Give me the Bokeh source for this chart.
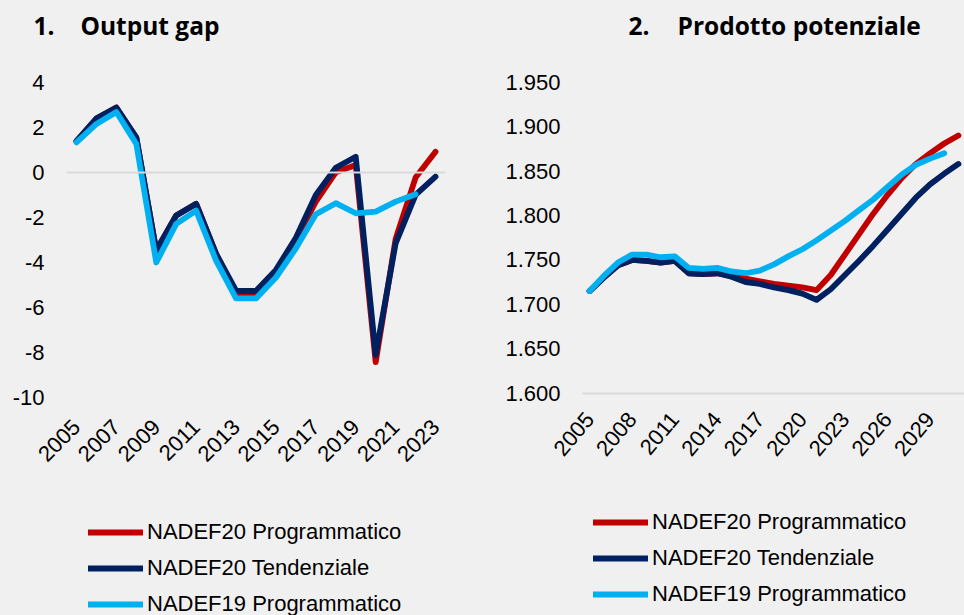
import math
from bokeh.plotting import figure
from bokeh.models import (Range1d, FixedTicker, Legend, LegendItem, Label,
                          LinearAxis)
from bokeh.layouts import row
from bokeh.embed import file_html
from bokeh.resources import INLINE

# ---------------- data ----------------
years_gap = list(range(2005, 2024))
gap_nadef20_prog = [1.4, 2.4, 2.9, 1.55, -3.47, -1.91, -1.39, -3.62, -5.35, -5.42,
                    -4.4, -3.0, -1.29, 0.01, 0.34, -8.44, -2.95, -0.22, 0.93]
gap_nadef20_tend = [1.4, 2.42, 2.9, 1.57, -3.47, -1.91, -1.39, -3.62, -5.25, -5.27,
                    -4.33, -2.9, -0.99, 0.22, 0.71, -8.12, -3.15, -0.99, -0.18]
years_gap19 = list(range(2005, 2023))
gap_nadef19_prog = [1.35, 2.17, 2.7, 1.28, -4.0, -2.28, -1.69, -3.92, -5.6, -5.6,
                    -4.67, -3.37, -1.85, -1.36, -1.81, -1.74, -1.29, -0.96]
gap_ticks_y = [-10, -8, -6, -4, -2, 0, 2, 4]
gap_tick_labels = ["-10", "-8", "-6", "-4", "-2", "0", "2", "4"]
gap_ticks_x = list(range(2005, 2024, 2))

years_pot = list(range(2005, 2032))
pot_nadef20_prog = [1715, 1730, 1744, 1750, 1749, 1747, 1749, 1735, 1734, 1735,
                    1732, 1729, 1726, 1723, 1721, 1719, 1716, 1733, 1756, 1779,
                    1802, 1823, 1842, 1858, 1870, 1881, 1890]
pot_nadef20_tend = [1715, 1730, 1744, 1750, 1749, 1747, 1749, 1735, 1734, 1735,
                    1731, 1725, 1723, 1719, 1716, 1712, 1705, 1717, 1733, 1749,
                    1766, 1784, 1802, 1820, 1835, 1847, 1858]
years_pot19 = list(range(2005, 2031))
pot_nadef19_prog = [1715, 1732, 1747, 1756, 1756, 1753, 1754, 1741, 1740, 1741,
                    1737, 1735, 1738, 1745, 1754, 1762, 1772, 1783, 1794, 1806,
                    1818, 1832, 1846, 1857, 1864, 1870]
pot_ticks_y = [1600, 1650, 1700, 1750, 1800, 1850, 1900, 1950]
pot_tick_labels = ["1.600", "1.650", "1.700", "1.750", "1.800", "1.850", "1.900", "1.950"]
pot_ticks_x = list(range(2005, 2032, 3))

series_labels = ["NADEF20 Programmatico", "NADEF20 Tendenziale", "NADEF19 Programmatico"]
colors = ["#C00000", "#002060", "#00B0F0"]

BG = "#F0F0F0"
TICK_FONT = "Liberation Sans"
LW = 5.8
H = 615


def ranges(x0, x1, px0, px1, y0, y1, py_bottom, py_top, width, height):
    """Extend the value ranges so that the plot area [px0,px1]x[py_top,py_bottom]
    (pixels from the canvas' top-left) holds [x0,x1]x[y0,y1]; the frame covers the canvas."""
    sx = (x1 - x0) / (px1 - px0)
    sy = (y1 - y0) / (py_bottom - py_top)
    xr = Range1d(x0 - px0 * sx, x1 + (width - px1) * sx)
    yr = Range1d(y0 - (height - py_bottom) * sy, y1 + py_top * sy)
    return xr, yr


def base_figure(width, xr, yr):
    p = figure(width=width, height=H, output_backend="svg", toolbar_location=None,
               x_range=xr, y_range=yr,
               min_border_left=0, min_border_right=0, min_border_top=0,
               min_border_bottom=0)
    p.background_fill_color = BG
    p.border_fill_color = BG
    p.outline_line_color = None
    p.xgrid.grid_line_color = None
    p.ygrid.grid_line_color = None
    for ax in (p.xaxis[0], p.yaxis[0]):
        ax.major_tick_line_color = None
        ax.minor_tick_line_color = None
        ax.major_tick_out = 0
        ax.major_tick_in = 0
        ax.minor_tick_out = 0
        ax.minor_tick_in = 0
        ax.major_label_text_font = TICK_FONT
        ax.major_label_text_font_size = "22px"
        ax.major_label_text_color = "#000000"
        ax.axis_line_color = None
    return p


def add_title(p, num, text, x_num, x_text):
    for t, x in ((num, x_num), (text, x_text)):
        p.add_layout(Label(x=x, y=H - 25, x_units="screen", y_units="screen", text=t,
                           text_font="Open Sans", text_font_style="bold",
                           text_font_size="24.5px", text_color="#000000",
                           text_baseline="alphabetic", text_align="left"))


def base_line_axis(p, loc, bounds):
    ax = LinearAxis(fixed_location=loc, bounds=bounds, ticker=FixedTicker(ticks=[]),
                    axis_line_color="#D9D9D9", axis_line_width=2,
                    major_tick_line_color=None, minor_tick_line_color=None,
                    major_label_text_alpha=0)
    p.add_layout(ax, "below")


def make_legend(p, renderers, loc):
    items = [LegendItem(label=lab, renderers=[r]) for lab, r in zip(series_labels, renderers)]
    leg = Legend(items=items, location=loc, orientation="vertical",
                 glyph_width=55, glyph_height=20, label_height=20,
                 label_standoff=4, spacing=10, padding=0, margin=0,
                 label_text_font=TICK_FONT, label_text_font_size="22px",
                 label_text_color="#000000",
                 border_line_color=None, background_fill_alpha=0)
    p.add_layout(leg, "center")


# ---------------- chart 1: output gap ----------------
W1 = 480
xr1, yr1 = ranges(2004.5, 2023.5, 66, 445, -10, 4, 396.7, 82.3, W1, H)
p1 = base_figure(W1, xr1, yr1)
p1.xaxis[0].fixed_location = -10
p1.yaxis[0].fixed_location = 2004.5
p1.xaxis[0].ticker = FixedTicker(ticks=gap_ticks_x)
p1.yaxis[0].ticker = FixedTicker(ticks=gap_ticks_y)
p1.yaxis[0].major_label_overrides = {t: lab for t, lab in zip(gap_ticks_y, gap_tick_labels)}
p1.xaxis[0].major_label_orientation = math.pi / 4
p1.xaxis[0].major_label_standoff = 26
p1.yaxis[0].major_label_standoff = 22
base_line_axis(p1, 0, (2004.5, 2023.5))
add_title(p1, "1.", "Output gap", 33, 80)

r1a = p1.line(years_gap, gap_nadef20_prog, line_color=colors[0], line_width=LW,
              line_join="round", line_cap="round")
r1b = p1.line(years_gap, gap_nadef20_tend, line_color=colors[1], line_width=LW,
              line_join="round", line_cap="round")
r1c = p1.line(years_gap19, gap_nadef19_prog, line_color=colors[2], line_width=LW,
              line_join="round", line_cap="round")
make_legend(p1, [r1a, r1b, r1c], (88, -2))

# ---------------- chart 2: prodotto potenziale ----------------
W2 = 484
xr2, yr2 = ranges(2004.5, 2031.5, 102, 485, 1600, 1950, 392.7, 81.7, W2, H)
p2 = base_figure(W2, xr2, yr2)
p2.xaxis[0].fixed_location = 1600
p2.yaxis[0].fixed_location = 2004.5
p2.xaxis[0].ticker = FixedTicker(ticks=pot_ticks_x)
p2.yaxis[0].ticker = FixedTicker(ticks=pot_ticks_y)
p2.yaxis[0].major_label_overrides = {t: lab for t, lab in zip(pot_ticks_y, pot_tick_labels)}
p2.xaxis[0].major_label_orientation = 0.87
p2.xaxis[0].major_label_standoff = 22
p2.yaxis[0].major_label_standoff = 22
base_line_axis(p2, 1600, (2004.5, 2031.5))
add_title(p2, "2.", "Prodotto potenziale", 148, 197)

r2a = p2.line(years_pot, pot_nadef20_prog, line_color=colors[0], line_width=LW,
              line_join="round", line_cap="round")
r2b = p2.line(years_pot, pot_nadef20_tend, line_color=colors[1], line_width=LW,
              line_join="round", line_cap="round")
r2c = p2.line(years_pot19, pot_nadef19_prog, line_color=colors[2], line_width=LW,
              line_join="round", line_cap="round")
make_legend(p2, [r2a, r2b, r2c], (113, 8))

layout = row(p1, p2)
layout.styles = {"background-color": BG}

open("out.html", "w").write(file_html(layout, INLINE))
